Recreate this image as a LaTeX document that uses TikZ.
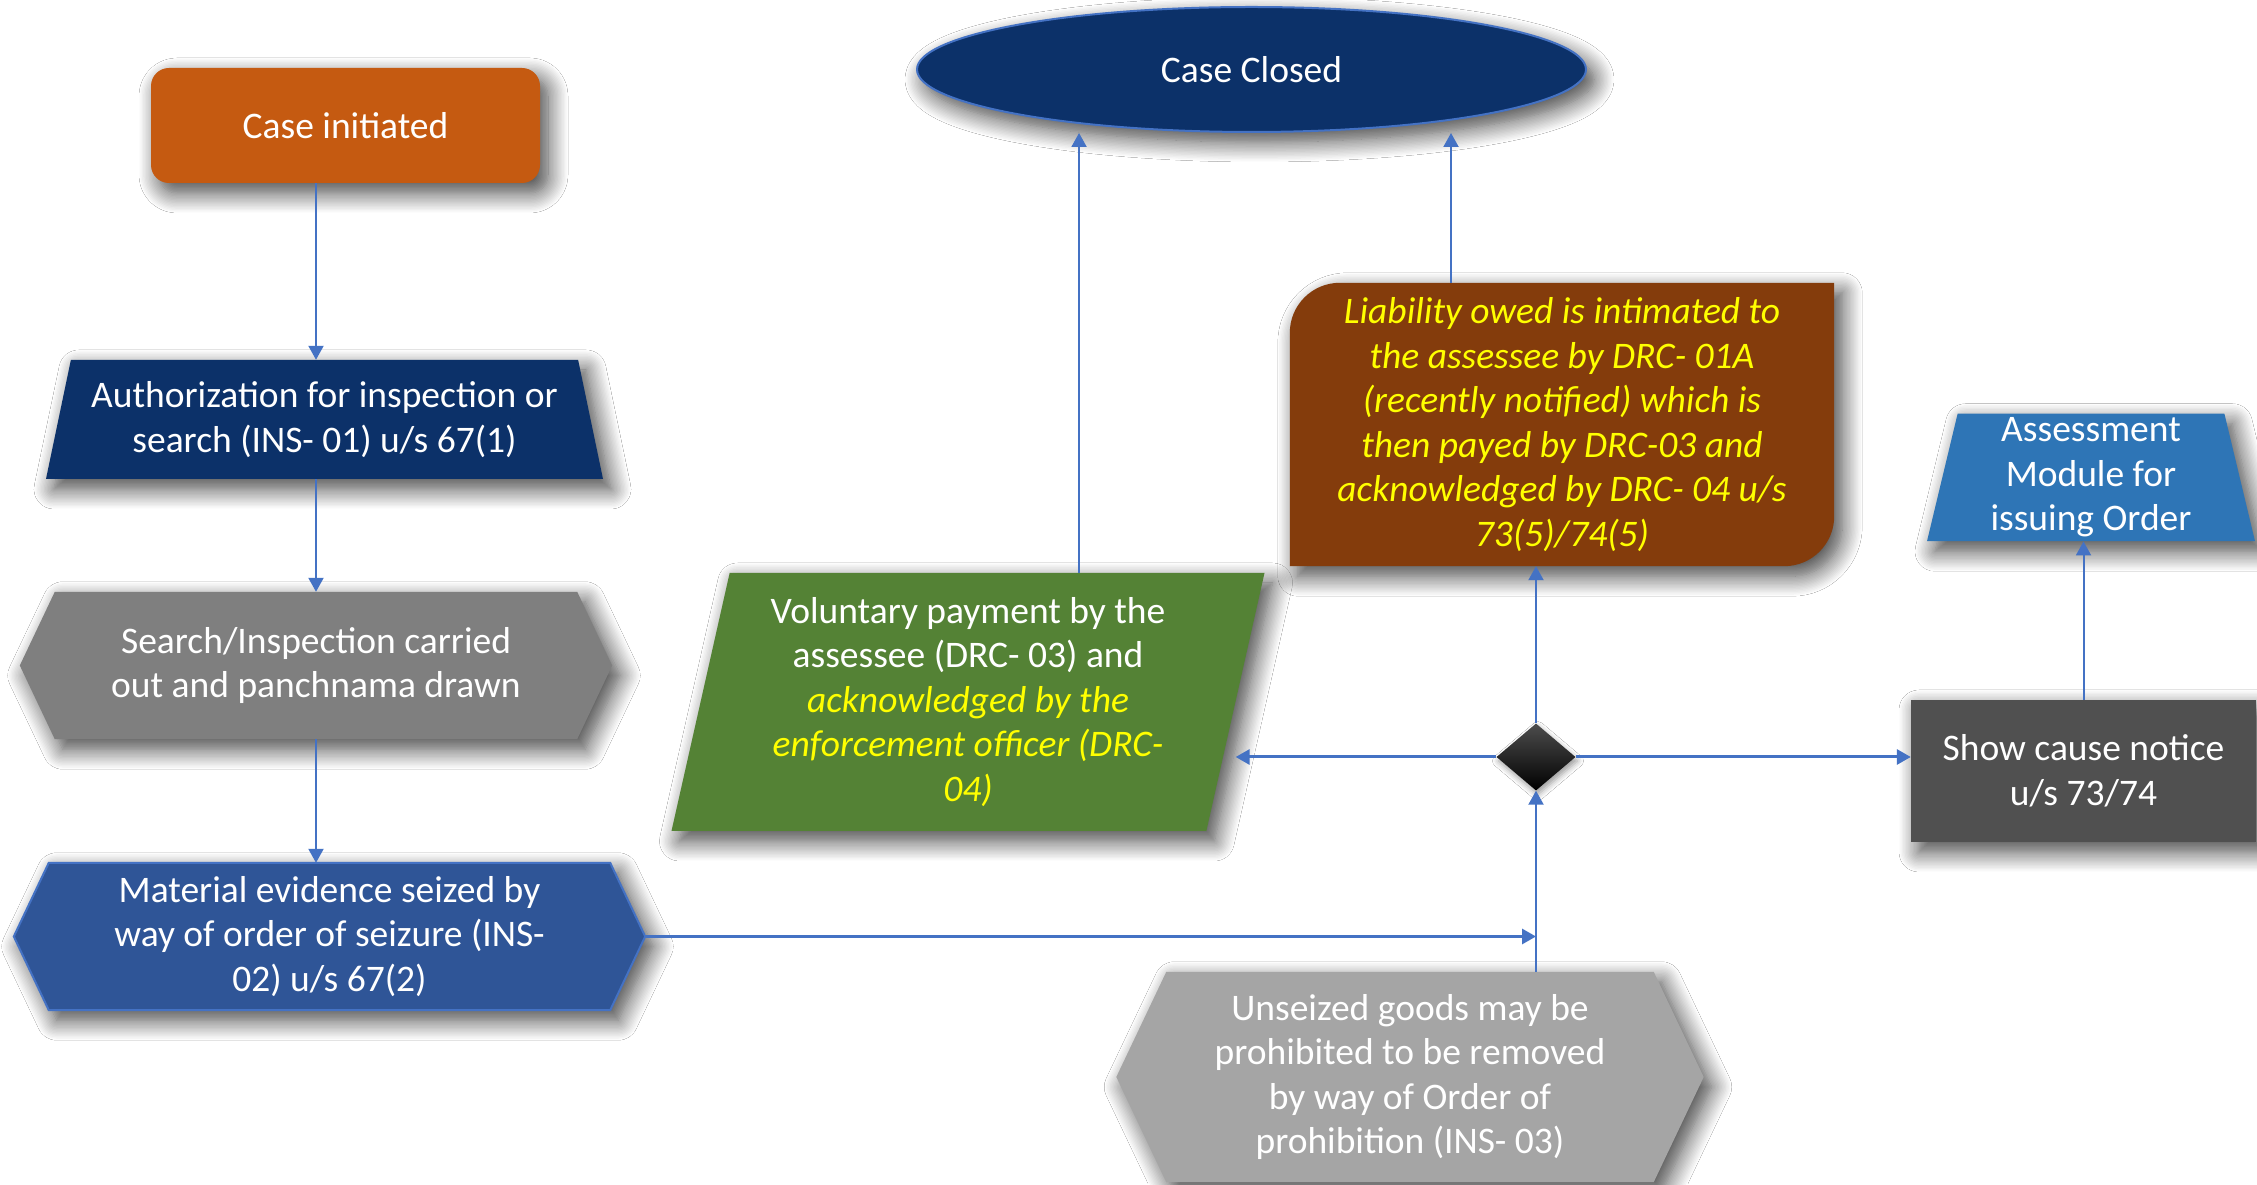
\documentclass[tikz,border=0pt]{standalone}
\usepackage{fontspec}
\setmainfont{Carlito}
\usepackage{tikz}
\usetikzlibrary{positioning,shapes.geometric,arrows.meta,shadows.blur,backgrounds,calc}

\definecolor{initorange}{HTML}{C55A11}
\definecolor{navyblue}{HTML}{0C3169}
\definecolor{evidblue}{HTML}{2F5597}
\definecolor{linkblue}{HTML}{4472C4}
\definecolor{paygreen}{HTML}{548235}
\definecolor{liabbrown}{HTML}{843C0C}
\definecolor{assessblue}{HTML}{2E75B6}
\definecolor{noticegray}{HTML}{505050}
\definecolor{searchgray}{HTML}{7F7F7F}
\definecolor{goodsgray}{HTML}{A5A5A5}
\definecolor{yellowtext}{HTML}{FFFF00}

\newcommand{\yel}[1]{{\itshape\color{yellowtext}#1}}
% hexagon behind a text node: node, point depth, fill options
\newcommand{\hexfill}[3]{%
  \fill[#3,boxshadow] (#1.north west) -- (#1.north east) -- ([xshift=#2]#1.east)
    -- (#1.south east) -- (#1.south west) -- ([xshift=-#2]#1.west) -- cycle;}

\begin{document}
\begin{tikzpicture}[%
        x=1pt,y=1pt,
        every node/.style={%
          font=\fontsize{37.5}{44.5}\selectfont,
          text=white,
          align=center
        },
        boxshadow/.style={%
          blur shadow={shadow xshift=8pt,shadow yshift=-10pt,
            shadow blur radius=20pt,shadow blur steps=15,shadow opacity=75}
        },
        link/.style={%
          -{Triangle[length=14pt,width=15pt]},
          draw=linkblue,
          line width=2pt
        },
        linkh/.style={link,line width=3pt},
        %>=stealth,
        textbox/.style={%
          rectangle,
          inner sep=0pt
        },
        slanted/.style={%
          trapezium,
          trapezium stretches body,
          inner sep=12pt,
          boxshadow
        }
      ]
      \useasboundingbox (0,0) rectangle (2257,1184);

      \node[rectangle,rounded corners=18pt,fill=initorange,boxshadow,
        minimum width=389pt,minimum height=115pt] (init) at (345.5,1058.5) {Case initiated};
      \node[ellipse,fill=navyblue,draw=linkblue,line width=2pt,boxshadow,
        minimum width=669pt,minimum height=125pt] (closed) at (1251.5,1114.5) {Case Closed};
      \node[slanted,fill=navyblue,trapezium left angle=76,trapezium right angle=76,
        minimum width=557pt,minimum height=119pt] (auth) at (324.5,764.5)
        {Authorization for inspection or\\search (INS- 01) u/s 67(1)};
      \node[textbox,minimum width=522pt,minimum height=147pt] (search) at (316,518.5)
        {Search/Inspection carried\\out and panchnama drawn};
      \node[textbox,minimum width=561pt,minimum height=147pt] (mat) at (329.5,247.5)
        {Material evidence seized by\\way of order of seizure (INS-\\02) u/s 67(2)};
      \node[slanted,fill=paygreen,trapezium left angle=76,trapezium right angle=104,
        minimum width=593pt,minimum height=258pt] (vol) at (968,482)
        {Voluntary payment by the\\assessee (DRC- 03) and\\\yel{acknowledged by the}\\
         \yel{enforcement officer (DRC-}\\\yel{04)}};
      \node[textbox,minimum width=544pt,minimum height=283pt,
        font=\fontsize{37.5}{44.5}\selectfont\itshape,text=yellowtext] (liab) at (1562,759.5)
        {Liability owed is intimated to\\the assessee by DRC- 01A\\(recently notified) which is\\
         then payed by DRC-03 and\\acknowledged by DRC- 04 u/s\\73(5)/74(5)};
      \node[slanted,fill=assessblue,trapezium left angle=76.5,trapezium right angle=76.5,
        inner sep=4pt,minimum width=328pt,minimum height=124pt] (assess) at (2091,706.5)
        {Assessment\\Module for\\issuing Order};
      \node[rectangle,fill=noticegray,boxshadow,
        minimum width=345pt,minimum height=142pt] (show) at (2083.5,413)
        {Show cause notice\\u/s 73/74};
      \node[diamond,top color=black!70,bottom color=black,inner sep=0pt,
        blur shadow={shadow xshift=2pt,shadow yshift=-4pt,shadow blur radius=6pt},
        minimum width=79pt,minimum height=67pt] (diam) at (1536,427) {};
      \node[textbox,minimum width=487pt,minimum height=210pt] (uns) at (1410,107)
        {Unseized goods may be\\prohibited to be removed\\by way of Order of\\prohibition (INS- 03)};
      \coordinate (matR) at ([xshift=35pt]mat.east);

      \begin{scope}[on background layer]
        \fill[white] (0,0) rectangle (2257,1184);
        \hexfill{search}{35pt}{searchgray}
        \hexfill{mat}{35pt}{evidblue,draw=linkblue,line width=2pt}
        \hexfill{uns}{50pt}{goodsgray}
        \fill[liabbrown,boxshadow] (liab.south west) -- ([yshift=-50pt]liab.north west)
          arc[start angle=180,end angle=90,radius=50pt] -- (liab.north east)
          -- ([yshift=50pt]liab.south east) arc[start angle=0,end angle=-90,radius=50pt] -- cycle;
      \end{scope}

      \draw[link] (init.south -| search) -- (search |- auth.north);
      \draw[link] (search |- auth.south) -- (search.north);
      \draw[link] (search.south) -- (search |- mat.north);
      \draw[linkh] (matR) -- (diam |- matR);
      \draw[link] (diam |- uns.north) -- (diam.south);
      \draw[link] (diam.north) -- (diam.north |- liab.south);
      \draw[linkh] (diam.west) -- (diam.west -| vol.east);
      \draw[linkh] (diam.east) -- (diam.east -| show.west);
      \draw[link] (show.north) -- (show.north |- assess.south);
      \draw[link] ([xshift=111pt]vol.north) -- ([xshift=111pt]vol.north |- closed.south);
      \draw[link] ([xshift=-111pt]liab.north) -- ([xshift=-111pt]liab.north |- closed.south);
    \end{tikzpicture}
\end{document}
